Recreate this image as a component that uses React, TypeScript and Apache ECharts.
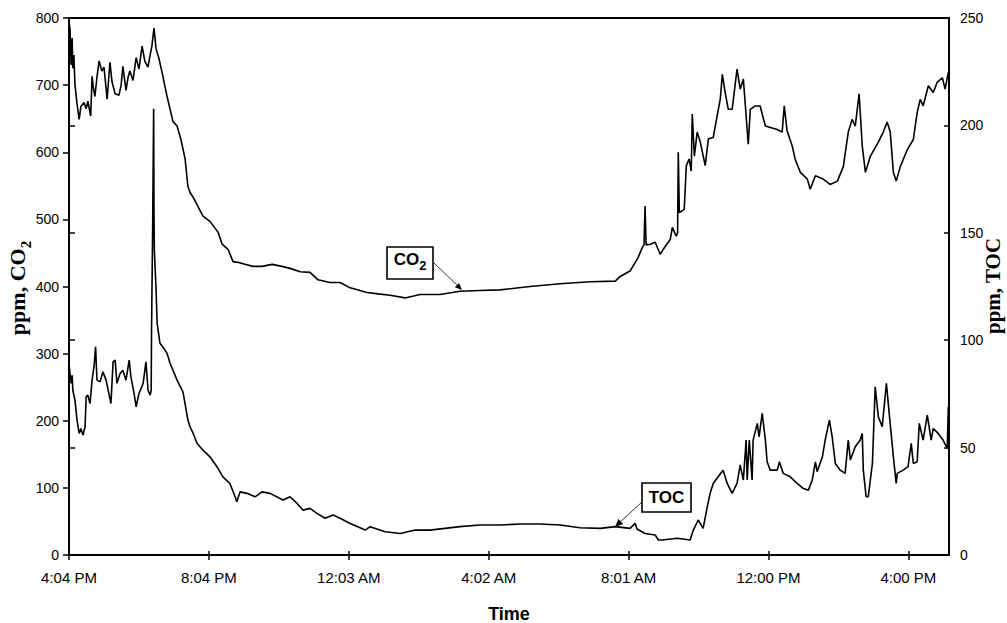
import React, { useEffect, useRef } from "react";
import * as echarts from "echarts";

const timeLabels = ["4:04 PM", "8:04 PM", "12:03 AM", "4:02 AM", "8:01 AM", "12:00 PM", "4:00 PM"];

// hours since 4:04 PM
const co2Time = [
  0.01, 0.03, 0.06, 0.09, 0.11, 0.14, 0.17, 0.23, 0.29, 0.34, 0.43, 0.49, 0.54, 0.62, 0.66, 0.70, 0.74, 0.80, 0.86, 0.94,
  1.00, 1.09, 1.17, 1.23, 1.32, 1.43, 1.49, 1.54, 1.63, 1.69, 1.74, 1.83, 1.92, 2.00, 2.09, 2.17, 2.26, 2.32, 2.37, 2.43,
  2.49, 2.57, 2.66, 2.80, 2.89, 2.97, 3.09, 3.20, 3.32, 3.40, 3.46, 3.55, 3.66, 3.83, 4.03, 4.26, 4.38, 4.55, 4.69, 4.83,
  5.03, 5.26, 5.52, 5.81, 6.09, 6.32, 6.61, 6.89, 7.12, 7.46, 7.75, 8.04, 8.52, 8.84, 9.18, 9.61, 10.04, 10.61, 11.18, 11.75,
  12.33, 13.18, 14.04, 14.90, 15.62, 15.76, 16.04, 16.27, 16.39, 16.44, 16.47, 16.50, 16.62, 16.76, 16.90, 17.05, 17.19, 17.25, 17.36, 17.40,
  17.42, 17.45, 17.59, 17.65, 17.73, 17.79, 17.82, 17.88, 17.96, 18.05, 18.19, 18.28, 18.42, 18.53, 18.62, 18.68, 18.76, 18.85, 18.96, 19.10,
  19.19, 19.28, 19.36, 19.42, 19.48, 19.62, 19.76, 19.91, 20.05, 20.25, 20.39, 20.45, 20.53, 20.68, 20.76, 20.91, 21.11, 21.19, 21.34, 21.56,
  21.76, 21.97, 22.14, 22.28, 22.39, 22.48, 22.59, 22.68, 22.77, 22.91, 23.14, 23.28, 23.39, 23.48, 23.57, 23.65, 23.77, 23.97, 24.14, 24.25,
  24.34, 24.42, 24.57, 24.71, 24.82, 24.97, 25.05, 25.14,
];
const co2Ppm = [
  790, 783, 730, 770, 725, 745, 701, 672, 649, 668, 674, 665, 676, 654, 713, 695, 683, 712, 736, 721,
  727, 679, 734, 705, 687, 685, 700, 728, 692, 712, 721, 707, 741, 724, 758, 735, 727, 745, 758, 785,
  754, 740, 719, 684, 664, 646, 639, 619, 590, 549, 540, 533, 522, 505, 497, 481, 463, 455, 437, 436,
  433, 430, 430, 433, 430, 427, 422, 421, 410, 406, 406, 398, 391, 389, 387, 383, 388, 388, 393, 394,
  395, 400, 404, 407, 408, 415, 423, 443, 458, 462, 520, 462, 463, 466, 448, 460, 470, 488, 475, 480,
  600, 510, 515, 580, 590, 572, 657, 594, 630, 615, 580, 620, 622, 654, 679, 716, 689, 664, 664, 724,
  694, 709, 654, 612, 664, 669, 669, 639, 637, 634, 630, 669, 632, 609, 590, 570, 560, 545, 565, 560,
  552, 557, 579, 630, 649, 639, 687, 609, 570, 594, 615, 630, 645, 630, 570, 557, 579, 604, 619, 659,
  679, 669, 699, 689, 704, 711, 694, 719,
];

const tocTime = [
  0.01, 0.06, 0.09, 0.11, 0.17, 0.23, 0.29, 0.34, 0.40, 0.46, 0.49, 0.54, 0.60, 0.66, 0.72, 0.76, 0.80, 0.89, 0.97, 1.06,
  1.14, 1.20, 1.26, 1.32, 1.37, 1.46, 1.54, 1.63, 1.72, 1.77, 1.86, 1.92, 2.00, 2.12, 2.20, 2.26, 2.32, 2.35, 2.36, 2.39,
  2.42, 2.43, 2.44, 2.49, 2.52, 2.60, 2.69, 2.80, 2.89, 3.09, 3.26, 3.40, 3.46, 3.55, 3.66, 3.83, 4.03, 4.23, 4.40, 4.60,
  4.75, 4.80, 4.89, 5.09, 5.32, 5.52, 5.75, 6.12, 6.32, 6.52, 6.69, 6.89, 7.09, 7.32, 7.55, 7.75, 8.04, 8.47, 8.61, 9.04,
  9.47, 9.90, 10.32, 10.75, 11.18, 11.75, 12.33, 12.90, 13.47, 14.04, 14.61, 15.19, 15.62, 16.04, 16.19, 16.24, 16.47, 16.76, 16.85, 16.96,
  17.39, 17.76, 17.85, 17.99, 18.13, 18.25, 18.33, 18.42, 18.56, 18.70, 18.82, 18.96, 19.10, 19.19, 19.28, 19.36, 19.39, 19.45, 19.53, 19.56,
  19.68, 19.73, 19.82, 19.91, 19.96, 20.05, 20.25, 20.31, 20.42, 20.62, 20.82, 20.99, 21.14, 21.25, 21.34, 21.39, 21.54, 21.62, 21.74, 21.82,
  21.91, 22.05, 22.19, 22.28, 22.34, 22.48, 22.62, 22.68, 22.71, 22.79, 22.85, 22.97, 23.05, 23.14, 23.25, 23.37, 23.45, 23.57, 23.65, 23.68,
  23.85, 23.99, 24.08, 24.14, 24.25, 24.31, 24.42, 24.54, 24.65, 24.71, 24.85, 24.99, 25.11, 25.14,
];
const tocPpm = [
  87.6, 79.9, 83.7, 76.7, 72.1, 62.8, 56.6, 58.9, 55.8, 59.7, 73.6, 74.4, 70.5, 81.4, 88.4, 96.9, 81.4, 80.6, 85.3, 81.4,
  75.2, 70.5, 89.9, 90.7, 79.9, 84.5, 86, 81.4, 90.7, 82.9, 75.2, 69, 75.2, 79.9, 89.9, 76.7, 74.4, 76.7, 104.6, 150,
  207.8, 160, 141.9, 123.3, 107.9, 98.6, 96.7, 94, 89.3, 81.4, 75.8, 62.8, 59.7, 56.6, 52, 48.8, 45.7, 41.1, 36.4, 33.3,
  27.1, 24.8, 29.4, 28.7, 27.1, 29.4, 28.7, 25.6, 27.1, 24, 20.9, 21.7, 19.4, 17.1, 18.6, 17.1, 14.7, 11.6, 13.2, 10.8,
  10, 11.6, 11.6, 12.4, 13.2, 14, 14, 14.4, 14.4, 14, 12.7, 12.4, 13.2, 12.4, 14.7, 12.1, 10, 9.3, 7, 7,
  7.8, 7, 11.6, 16.3, 12.4, 22.5, 28.7, 33.3, 36.4, 39.5, 33.3, 28.7, 33.3, 41.9, 34.9, 53.5, 34.9, 53.5, 34.9, 53.5,
  61.3, 55, 65.9, 53.5, 43.4, 39.5, 39.5, 43.4, 38, 36.4, 33.3, 31, 30.2, 34.9, 43.4, 38.8, 45.7, 53.5, 62.8, 55,
  42.6, 39.5, 38, 53.5, 44.2, 50.4, 53.5, 56.6, 39.5, 27.1, 27.1, 42.6, 78.3, 64.3, 59.7, 79.9, 65.9, 45.7, 33.3, 38,
  39.5, 41.1, 52, 42.6, 43.4, 61.3, 53.5, 65.1, 53.5, 58.9, 56.6, 53.5, 49.6, 69,
];

const SANS = "'Liberation Sans', Arial, sans-serif";
const SERIF = "'Liberation Serif', 'Times New Roman', serif";

export default function App() {
  const ref = useRef<HTMLDivElement>(null);
  useEffect(() => {
    if (!ref.current) return;
    const chart = echarts.init(ref.current, null, { renderer: "svg" });
    const co2Data = co2Time.map((t, i) => [t, co2Ppm[i]]);
    const tocData = tocTime.map((t, i) => [t, tocPpm[i]]);
    const fmt = (v: number) => {
      const i = Math.round(v / 4);
      if (Math.abs(v - i * 4) > 0.01) return "";
      return timeLabels[i] ?? "";
    };
    const axisLine = { show: false };
    chart.setOption({
      animation: false,
      backgroundColor: "#fff",
      grid: {
        left: 69,
        right: 58,
        top: 18,
        bottom: 68,
        containLabel: false,
        outerBoundsMode: "none",
        show: true,
        borderColor: "#000",
        borderWidth: 2,
        backgroundColor: "transparent",
      },
      xAxis: [
        {
          type: "value",
          min: 0,
          max: 25.16,
          interval: 4,
          axisLine,
          splitLine: { show: false },
          axisTick: { show: true, length: 5, lineStyle: { color: "#000", width: 1.5 } },
          axisLabel: {
            formatter: fmt,
            color: "#000",
            fontFamily: SANS,
            fontSize: 15,
            margin: 15,
            showMaxLabel: false,
          },
          name: "Time",
          nameLocation: "middle",
          nameGap: 50,
          nameTextStyle: { fontFamily: SANS, fontWeight: "bold", fontSize: 18, color: "#000" },
        },
        {
          type: "value",
          min: 0,
          max: 25.16,
          interval: 4,
          position: "bottom",
          axisLine,
          splitLine: { show: false },
          axisTick: { show: true, inside: true, length: 4, lineStyle: { color: "#000", width: 1.5 } },
          axisLabel: { show: false },
        },
      ],
      yAxis: [
        {
          type: "value",
          min: 0,
          max: 800,
          interval: 100,
          position: "left",
          axisLine,
          splitLine: { show: false },
          axisTick: { show: true, length: 6, lineStyle: { color: "#000", width: 1.5 } },
          axisLabel: { color: "#000", fontFamily: SANS, fontSize: 14, margin: 10 },
        },
        {
          type: "value",
          min: 0,
          max: 250,
          interval: 50,
          position: "right",
          axisLine,
          splitLine: { show: false },
          axisTick: { show: true, length: 6, lineStyle: { color: "#000", width: 1.5 } },
          axisLabel: { color: "#000", fontFamily: SANS, fontSize: 14, margin: 11 },
        },
        {
          type: "value",
          min: 0,
          max: 250,
          interval: 50,
          position: "right",
          axisLine,
          splitLine: { show: false },
          axisTick: { show: true, inside: true, length: 5, lineStyle: { color: "#000", width: 1.5 } },
          axisLabel: { show: false },
        },
      ],
      series: [
        {
          name: "CO2",
          type: "line",
          xAxisIndex: 0,
          yAxisIndex: 0,
          data: co2Data,
          showSymbol: false,
          lineStyle: { color: "#000", width: 1.6 },
        },
        {
          name: "TOC",
          type: "line",
          xAxisIndex: 0,
          yAxisIndex: 1,
          data: tocData,
          showSymbol: false,
          lineStyle: { color: "#000", width: 1.6 },
        },
      ],
      graphic: [
        {
          type: "text",
          x: 22,
          y: 288,
          rotation: Math.PI / 2,
          style: {
            text: "{a|ppm, CO}{b|2}",
            align: "center",
            verticalAlign: "middle",
            fill: "#000",
            rich: {
              a: { fontFamily: SERIF, fontWeight: "bold", fontSize: 22, lineHeight: 22, verticalAlign: "bottom", padding: [0, 0, 5, 0] },
              b: { fontFamily: SERIF, fontWeight: "bold", fontSize: 15, lineHeight: 15, verticalAlign: "bottom" },
            },
          },
        },
        {
          type: "text",
          x: 993,
          y: 286,
          rotation: Math.PI / 2,
          style: {
            text: "ppm, TOC",
            align: "center",
            verticalAlign: "middle",
            fill: "#000",
            fontFamily: SERIF,
            fontWeight: "bold",
            fontSize: 21,
          },
        },
        // CO2 annotation
        { type: "line", shape: { x1: 434, y1: 263, x2: 458, y2: 286 }, style: { stroke: "#222", lineWidth: 0.9 } },
        {
          type: "polygon",
          shape: { points: [[462, 290], [454.9, 287.3], [459.1, 282.9]] },
          style: { fill: "#000" },
        },
        {
          type: "rect",
          shape: { x: 387, y: 247, width: 46, height: 32 },
          style: { fill: "#fff", stroke: "#000", lineWidth: 1.6 },
        },
        {
          type: "text",
          x: 410,
          y: 263,
          style: {
            text: "{a|CO}{b|2}",
            align: "center",
            verticalAlign: "middle",
            fill: "#000",
            rich: {
              a: { fontFamily: SANS, fontWeight: "bold", fontSize: 17, lineHeight: 17, verticalAlign: "bottom", padding: [0, 0, 4, 0] },
              b: { fontFamily: SANS, fontWeight: "bold", fontSize: 13, lineHeight: 13, verticalAlign: "bottom" },
            },
          },
        },
        // TOC annotation
        { type: "line", shape: { x1: 642, y1: 502, x2: 620, y2: 522 }, style: { stroke: "#222", lineWidth: 0.9 } },
        {
          type: "polygon",
          shape: { points: [[615, 527], [618.4, 518.9], [623.2, 524.1]] },
          style: { fill: "#000" },
        },
        {
          type: "rect",
          shape: { x: 642, y: 483, width: 49, height: 29 },
          style: { fill: "#fff", stroke: "#000", lineWidth: 1.6 },
        },
        {
          type: "text",
          x: 666.5,
          y: 497.5,
          style: {
            text: "TOC",
            align: "center",
            verticalAlign: "middle",
            fill: "#000",
            fontFamily: SANS,
            fontWeight: "bold",
            fontSize: 17,
          },
        },
      ],
    });
    return () => chart.dispose();
  }, []);
  return (
    <div
      ref={ref}
      style={{ position: "fixed", left: 0, top: 0, width: 1007, height: 623, background: "#fff" }}
    />
  );
}
